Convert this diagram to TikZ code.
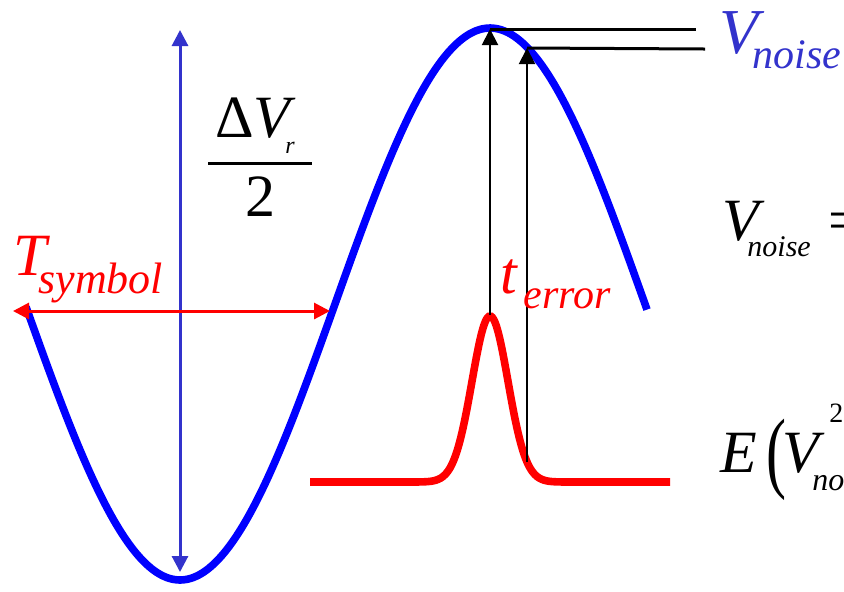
\documentclass[tikz,border=0pt]{standalone}
\usepackage{fontspec}
\setmainfont{LiberationSerif}[Extension=.ttf, UprightFont=*-Regular, ItalicFont=*-Italic, BoldFont=*-Bold, BoldItalicFont=*-BoldItalic]
\usetikzlibrary{arrows.meta}
\definecolor{sigblue}{RGB}{0,0,255}
\definecolor{dimblue}{RGB}{51,51,204}
\newcommand{\fsz}[1]{\fontsize{#1}{#1}\selectfont}

\begin{document}
\begin{tikzpicture}[x=0.5pt,y=-0.5pt,
  lbl/.style={inner sep=0pt, anchor=base west},
  wave/.style={line width=3.8pt},
  dimline/.style={line width=1.5pt, {Triangle[width=8pt,length=8pt]}-{Triangle[width=8pt,length=8pt]}},
  probe/.style={line width=1pt, -{Triangle[width=8pt,length=8pt]}}]
\useasboundingbox (0,0) rectangle (844,591);
\clip (0,0) rectangle (844,591);

% signal and error pdf
\draw[wave, sigblue] plot[domain=26:647, samples=120, smooth] (\x, {304+276*cos((\x-180)/620*360)});
\draw[wave, red] plot[domain=310:670, samples=150, smooth] (\x, {482-166*exp(-0.5*((\x-490)/18)*((\x-490)/18))});

% end points
\coordinate (vtop) at (180,30);
\coordinate (vbot) at (180,572);
\coordinate (tleft) at (13,311);
\coordinate (tright) at (330,311);
\coordinate (peak) at (490,315);
\coordinate (peaktop) at (490,29);
\coordinate (tail) at (527,462);
\coordinate (shift) at (527,48);
\coordinate (lvl1) at (696,29);
\coordinate (lvl2) at (705,49);

\draw[dimline, dimblue] (vbot) -- (vtop);
\draw[dimline, red] (tleft) -- (tright);
\draw[probe] (peak) -- (peaktop);
\draw[probe] (tail) -- (shift);
\draw[line width=1.5pt] (peaktop) -- (lvl1);
\draw[line width=1.5pt] (shift) -- (lvl2);

% fraction
\node[lbl, font=\fsz{30}] (delta) at (215,137) {Δ};
\node[lbl, font=\fsz{30}\itshape] (dv) at (253,137) {V};
\node[lbl, font=\fsz{12}\itshape] (dvsub) at (285,153) {r};
\draw[line width=1.5pt] (208,163) -- (312,163);
\node[inner sep=0pt, anchor=base, font=\fsz{30}] (two) at (260,216) {2};

% red labels
\node[lbl, font=\fsz{30}\itshape, text=red] (tsym) at (13,275) {T};
\node[lbl, font=\fsz{22}\itshape, text=red] (tsymsub) at (38,293) {symbol};
\node[lbl, font=\fsz{30}\itshape, text=red] (terr) at (500,293) {t};
\node[lbl, font=\fsz{21}\itshape, text=red] (terrsub) at (523,308) {error};

% right side
\node[lbl, font=\fsz{32}\itshape, text=dimblue] (vn) at (719,53) {V};
\node[lbl, font=\fsz{21}\itshape, text=dimblue] (vnsub) at (752,68) {noise};
\node[lbl, font=\fsz{30}\itshape] (vdef) at (722,240) {V};
\node[lbl, font=\fsz{15}\itshape] (vdefsub) at (747,256) {noise};
\node[lbl, font=\fsz{30}] (eq) at (828,240) {=};
\node[lbl, font=\fsz{30}\itshape] (ex) at (720,472) {E};
\node[lbl, font=\fsz{30}] (paren) at (766,481) {\scalebox{1}[1.5]{(}};
\node[lbl, font=\fsz{30}\itshape] (ev) at (782,472) {V};
\node[lbl, font=\fsz{14}] (evsup) at (829,422) {2};
\node[lbl, font=\fsz{16}\itshape] (evsub) at (812,490) {no};
\end{tikzpicture}
\end{document}
